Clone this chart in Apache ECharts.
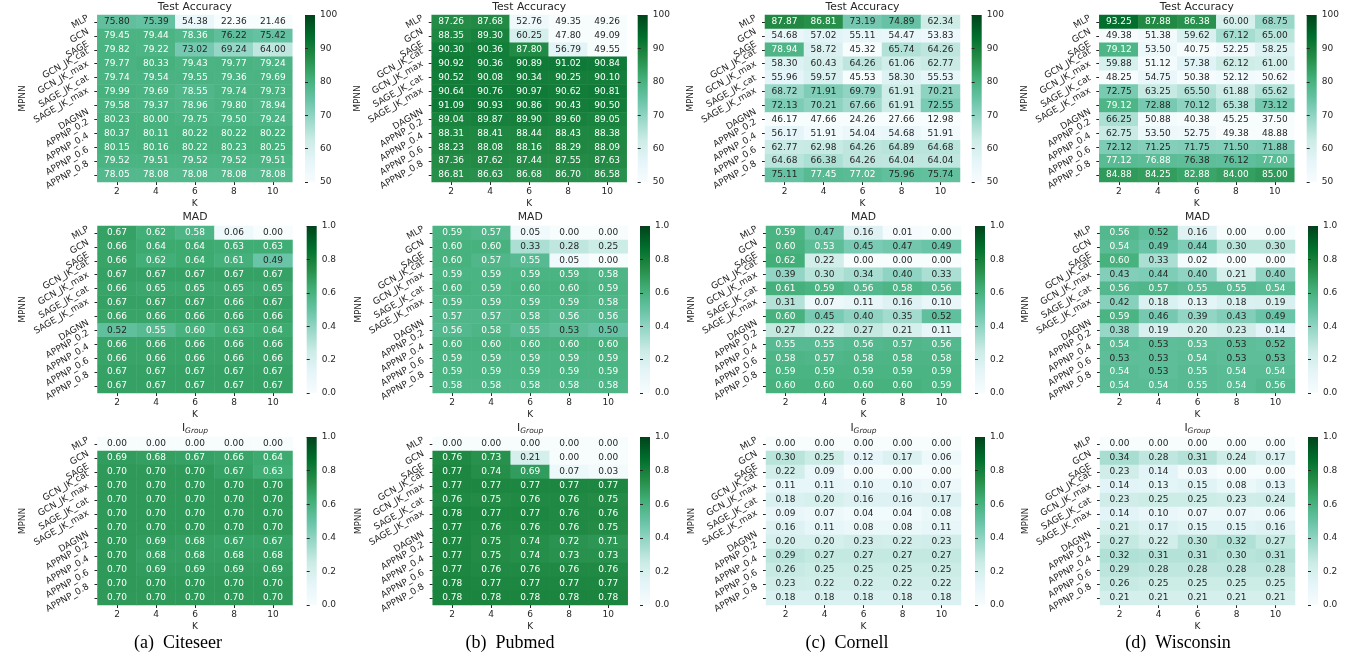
<!DOCTYPE html>
<html><head><meta charset="utf-8">
<script src="https://cdn.jsdelivr.net/npm/echarts@6/dist/echarts.min.js"></script>
<style>html,body{margin:0;padding:0;background:#fff}#c{width:1367px;height:660px}</style>
</head><body><div id="c"></div>
<script>
// ---------- categories ----------
const models = ['MLP','GCN','SAGE','GCN_JK_cat','GCN_JK_max','SAGE_JK_cat','SAGE_JK_max','DAGNN','APPNP_0.2','APPNP_0.4','APPNP_0.6','APPNP_0.8'];
const kValues = ['2','4','6','8','10'];
const captions = ['(a)  Citeseer','(b)  Pubmed','(c)  Cornell','(d)  Wisconsin'];
const accRange = [50, 100], accInterval = 10;
const unitRange = [0, 1], unitInterval = 0.2;

// ---------- Test Accuracy ----------
const citeseerAcc = [
  [75.80,75.39,54.38,22.36,21.46],[79.45,79.44,78.36,76.22,75.42],[79.82,79.22,73.02,69.24,64.00],
  [79.77,80.33,79.43,79.77,79.24],[79.74,79.54,79.55,79.36,79.69],[79.99,79.69,78.55,79.74,79.73],
  [79.58,79.37,78.96,79.80,78.94],[80.23,80.00,79.75,79.50,79.24],[80.37,80.11,80.22,80.22,80.22],
  [80.15,80.16,80.22,80.23,80.25],[79.52,79.51,79.52,79.52,79.51],[78.05,78.08,78.08,78.08,78.08]];
const pubmedAcc = [
  [87.26,87.68,52.76,49.35,49.26],[88.35,89.30,60.25,47.80,49.09],[90.30,90.36,87.80,56.79,49.55],
  [90.92,90.36,90.89,91.02,90.84],[90.52,90.08,90.34,90.25,90.10],[90.64,90.76,90.97,90.62,90.81],
  [91.09,90.93,90.86,90.43,90.50],[89.04,89.87,89.90,89.60,89.05],[88.31,88.41,88.44,88.43,88.38],
  [88.23,88.08,88.16,88.29,88.09],[87.36,87.62,87.44,87.55,87.63],[86.81,86.63,86.68,86.70,86.58]];
const cornellAcc = [
  [87.87,86.81,73.19,74.89,62.34],[54.68,57.02,55.11,54.47,53.83],[78.94,58.72,45.32,65.74,64.26],
  [58.30,60.43,64.26,61.06,62.77],[55.96,59.57,45.53,58.30,55.53],[68.72,71.91,69.79,61.91,70.21],
  [72.13,70.21,67.66,61.91,72.55],[46.17,47.66,24.26,27.66,12.98],[56.17,51.91,54.04,54.68,51.91],
  [62.77,62.98,64.26,64.89,64.68],[64.68,66.38,64.26,64.04,64.04],[75.11,77.45,77.02,75.96,75.74]];
const wisconsinAcc = [
  [93.25,87.88,86.38,60.00,68.75],[49.38,51.38,59.62,67.12,65.00],[79.12,53.50,40.75,52.25,58.25],
  [59.88,51.12,57.38,62.12,61.00],[48.25,54.75,50.38,52.12,50.62],[72.75,63.25,65.50,61.88,65.62],
  [79.12,72.88,70.12,65.38,73.12],[66.25,50.88,40.38,45.25,37.50],[62.75,53.50,52.75,49.38,48.88],
  [72.12,71.25,71.75,71.50,71.88],[77.12,76.88,76.38,76.12,77.00],[84.88,84.25,82.88,84.00,85.00]];

// ---------- MAD ----------
const citeseerMad = [
  [0.67,0.62,0.58,0.06,0.00],[0.66,0.64,0.64,0.63,0.63],[0.66,0.62,0.64,0.61,0.49],
  [0.67,0.67,0.67,0.67,0.67],[0.66,0.65,0.65,0.65,0.65],[0.67,0.67,0.67,0.66,0.67],
  [0.66,0.66,0.66,0.66,0.66],[0.52,0.55,0.60,0.63,0.64],[0.66,0.66,0.66,0.66,0.66],
  [0.66,0.66,0.66,0.66,0.66],[0.67,0.67,0.67,0.67,0.67],[0.67,0.67,0.67,0.67,0.67]];
const pubmedMad = [
  [0.59,0.57,0.05,0.00,0.00],[0.60,0.60,0.33,0.28,0.25],[0.60,0.57,0.55,0.05,0.00],
  [0.59,0.59,0.59,0.59,0.58],[0.60,0.59,0.60,0.60,0.59],[0.59,0.59,0.59,0.59,0.58],
  [0.57,0.57,0.58,0.56,0.56],[0.56,0.58,0.55,0.528,0.50],[0.60,0.60,0.60,0.60,0.60],
  [0.59,0.59,0.59,0.59,0.59],[0.59,0.59,0.59,0.59,0.59],[0.58,0.58,0.58,0.58,0.58]];
const cornellMad = [
  [0.59,0.47,0.16,0.01,0.00],[0.60,0.534,0.45,0.47,0.49],[0.62,0.22,0.00,0.00,0.00],
  [0.39,0.30,0.34,0.40,0.33],[0.61,0.59,0.56,0.58,0.56],[0.31,0.07,0.11,0.16,0.10],
  [0.60,0.45,0.40,0.35,0.52],[0.27,0.22,0.27,0.21,0.11],[0.55,0.55,0.56,0.57,0.56],
  [0.58,0.57,0.58,0.58,0.58],[0.59,0.59,0.59,0.59,0.59],[0.60,0.60,0.60,0.60,0.59]];
const wisconsinMad = [
  [0.56,0.52,0.16,0.00,0.00],[0.54,0.49,0.44,0.30,0.30],[0.60,0.33,0.02,0.00,0.00],
  [0.43,0.44,0.40,0.21,0.40],[0.56,0.57,0.55,0.55,0.54],[0.42,0.18,0.13,0.18,0.19],
  [0.59,0.46,0.39,0.43,0.49],[0.38,0.19,0.20,0.23,0.14],[0.54,0.528,0.534,0.528,0.52],
  [0.528,0.528,0.54,0.528,0.528],[0.54,0.528,0.55,0.54,0.54],[0.54,0.54,0.55,0.54,0.56]];

// ---------- I_Group ----------
const citeseerIg = [
  [0.00,0.00,0.00,0.00,0.00],[0.69,0.68,0.67,0.66,0.64],[0.70,0.70,0.70,0.67,0.63],
  [0.70,0.70,0.70,0.70,0.70],[0.70,0.70,0.70,0.70,0.70],[0.70,0.70,0.70,0.70,0.70],
  [0.70,0.70,0.70,0.70,0.70],[0.70,0.69,0.68,0.67,0.67],[0.70,0.68,0.68,0.68,0.68],
  [0.70,0.69,0.69,0.69,0.69],[0.70,0.70,0.70,0.70,0.70],[0.70,0.70,0.70,0.70,0.70]];
const pubmedIg = [
  [0.00,0.00,0.00,0.00,0.00],[0.76,0.73,0.21,0.00,0.00],[0.77,0.74,0.69,0.07,0.03],
  [0.77,0.77,0.77,0.77,0.77],[0.76,0.75,0.76,0.76,0.75],[0.78,0.77,0.77,0.76,0.76],
  [0.77,0.76,0.76,0.76,0.75],[0.77,0.75,0.74,0.72,0.71],[0.77,0.75,0.74,0.73,0.73],
  [0.77,0.76,0.76,0.76,0.76],[0.78,0.77,0.77,0.77,0.77],[0.78,0.78,0.78,0.78,0.78]];
const cornellIg = [
  [0.00,0.00,0.00,0.00,0.00],[0.30,0.25,0.12,0.17,0.06],[0.22,0.09,0.00,0.00,0.00],
  [0.11,0.11,0.10,0.10,0.07],[0.18,0.20,0.16,0.16,0.17],[0.09,0.07,0.04,0.04,0.08],
  [0.16,0.11,0.08,0.08,0.11],[0.20,0.20,0.23,0.22,0.23],[0.29,0.27,0.27,0.27,0.27],
  [0.26,0.25,0.25,0.25,0.25],[0.23,0.22,0.22,0.22,0.22],[0.18,0.18,0.18,0.18,0.18]];
const wisconsinIg = [
  [0.00,0.00,0.00,0.00,0.00],[0.34,0.28,0.31,0.24,0.17],[0.23,0.14,0.03,0.00,0.00],
  [0.14,0.13,0.15,0.08,0.13],[0.23,0.25,0.25,0.23,0.24],[0.14,0.10,0.07,0.07,0.06],
  [0.21,0.17,0.15,0.15,0.16],[0.27,0.22,0.30,0.32,0.27],[0.32,0.31,0.31,0.30,0.31],
  [0.29,0.28,0.28,0.28,0.28],[0.26,0.25,0.25,0.25,0.25],[0.21,0.21,0.21,0.21,0.21]];

// ---------- layout / style ----------
const BuGn = ['#f7fcfd','#e5f5f9','#ccece6','#99d8c9','#66c2a4','#41ae76','#238b45','#006d2c','#00441b'];
const FONT = '"DejaVu Sans", sans-serif';
const TXT = '#262626';
const rowTop = [15, 226, 437], rowH = [167, 167, 168];
const gridLeft = [[97.3,431.7,765,1099.3],[97.5,432.7,766,1100],[97.5,432.7,766,1100]];
const cbLeft = [[305,637.7,971.7,1306.7],[306.7,640,975,1308],[306.7,640,975,1308]];
const gridW = 195;
const titleY = [7.5, 217, 429];
const captionX = [178, 510, 847, 1178], captionY = 643;

const metricData = [
  [citeseerAcc, pubmedAcc, cornellAcc, wisconsinAcc],
  [citeseerMad, pubmedMad, cornellMad, wisconsinMad],
  [citeseerIg, pubmedIg, cornellIg, wisconsinIg]];
const ranges = [accRange, unitRange, unitRange];
const intervals = [accInterval, unitInterval, unitInterval];

function hexRgb(h){return [1,3,5].map(i=>parseInt(h.substr(i,2),16));}
const cmapRgb = BuGn.map(hexRgb);
function cmap(t){
  t = Math.max(0, Math.min(1, t));
  const p = t*(cmapRgb.length-1), i = Math.min(Math.floor(p), cmapRgb.length-2), f = p-i;
  return cmapRgb[i].map((v,k)=>v+(cmapRgb[i+1][k]-v)*f);
}
function lum(rgb){
  const l = rgb.map(v=>{v/=255; return v<=0.03928? v/12.92 : Math.pow((v+0.055)/1.055,2.4);});
  return 0.2126*l[0]+0.7152*l[1]+0.0722*l[2];
}

// rotated y labels: place each so its rotated bounding box is centred on the tick
const FS = 9, LH = 9, PAD = 7;
const ctx = document.createElement('canvas').getContext('2d');
ctx.font = FS + 'px "DejaVu Sans"';
const Kc = PAD + LH/4, s30 = 0.5, c30 = Math.cos(Math.PI/6);
const yCats = models.map(m=>{
  const L = ctx.measureText(m).width;
  const pr = Math.max(0, c30*Kc - s30*L/4);
  const pb = Math.max(0, s30*Kc + c30*L/4 - LH/2);
  return {value:m, textStyle:{padding:[0, pr, pb, 0], verticalAlign:'bottom', lineHeight:LH}};
});

const grids=[], xAxes=[], yAxes=[], series=[], visualMaps=[], graphics=[];
const axisTxt = {fontSize:FS, color:TXT, fontFamily:FONT};

for (let r=0;r<3;r++){
  const [mn,mx] = ranges[r];
  for (let c=0;c<4;c++){
    const gi = grids.length;
    grids.push({left:gridLeft[r][c], top:rowTop[r], width:gridW, height:rowH[r], show:false});
    xAxes.push({type:'category', gridIndex:gi, data:kValues, position:'bottom',
      name:'K', nameLocation:'middle', nameGap:17, nameTextStyle:axisTxt,
      axisLine:{show:false}, splitLine:{show:false}, splitArea:{show:false},
      axisTick:{show:true, alignWithLabel:true, interval:0, length:3, lineStyle:{color:TXT, width:1}},
      axisLabel:Object.assign({margin:5, interval:0}, axisTxt)});
    yAxes.push({type:'category', gridIndex:gi, data:yCats, inverse:true,
      name:'MPNN', nameLocation:'middle', nameGap:70, nameRotate:90, nameTextStyle:axisTxt,
      axisLine:{show:false}, splitLine:{show:false}, splitArea:{show:false},
      axisTick:{show:true, alignWithLabel:true, interval:0, length:3, lineStyle:{color:TXT, width:1}},
      axisLabel:Object.assign({margin:0, interval:0, rotate:30, verticalAlign:'bottom', lineHeight:LH}, axisTxt)});
    const ci = grids.length;
    grids.push({left:cbLeft[r][c], top:rowTop[r], width:10, height:rowH[r], show:true, borderWidth:0,
      backgroundColor:new echarts.graphic.LinearGradient(0,1,0,0, BuGn.map((col,i)=>({offset:i/(BuGn.length-1), color:col})))});
    xAxes.push({type:'value', gridIndex:ci, show:false, min:0, max:1});
    yAxes.push({type:'value', gridIndex:ci, position:'right', min:mn, max:mx, interval:intervals[r],
      axisLine:{show:false}, splitLine:{show:false},
      axisTick:{show:true, length:3, lineStyle:{color:TXT, width:1}},
      axisLabel:Object.assign({margin:5, formatter:v=> r===0 ? String(Math.round(v)) : v.toFixed(1)}, axisTxt)});

    const arr = metricData[r][c];
    const data = [];
    arr.forEach((row, yi)=>row.forEach((v, xi)=>{
      const L = lum(cmap((v-mn)/(mx-mn)));
      data.push({value:[xi, yi, v], label:{color: L>0.408 ? TXT : '#ffffff'}});
    }));
    series.push({type:'heatmap', xAxisIndex:gi, yAxisIndex:gi, data,
      label:{show:true, fontSize:9, fontFamily:FONT, formatter:p=>p.value[2].toFixed(2)},
      itemStyle:{borderWidth:0}, emphasis:{disabled:true}});
    visualMaps.push({type:'continuous', show:false, seriesIndex:series.length-1, dimension:2,
      min:mn, max:mx, inRange:{color:BuGn}, outOfRange:{color:['#f7fcfd']}});

    const cx = gridLeft[r][c] + gridW/2;
    if (r===2){
      graphics.push({type:'text', x:cx, y:titleY[r], style:{text:'{i|I}{g|Group}', align:'center', verticalAlign:'middle',
        textAlign:'center', textVerticalAlign:'middle', fill:TXT,
        rich:{i:{fontSize:10.8, fontFamily:FONT, fill:TXT, color:TXT, lineHeight:12, verticalAlign:'top'},
              g:{fontSize:7.5, fontFamily:FONT, fontStyle:'italic', fill:TXT, color:TXT, lineHeight:7, verticalAlign:'bottom'}}}});
    } else {
      graphics.push({type:'text', x:cx, y:titleY[r], style:{text: r===0 ? 'Test Accuracy' : 'MAD', fontSize:10.8, fontFamily:FONT,
        fill:TXT, align:'center', verticalAlign:'middle', textAlign:'center', textVerticalAlign:'middle'}});
    }
  }
}
captions.forEach((t,c)=>graphics.push({type:'text', x:captionX[c], y:captionY, style:{text:t, fontSize:18,
  fontFamily:'"Liberation Serif", "DejaVu Serif", serif', fill:'#000', align:'center', verticalAlign:'middle',
  textAlign:'center', textVerticalAlign:'middle'}}));

const chart = echarts.init(document.getElementById('c'), null, {renderer:'canvas', width:1367, height:660});
chart.setOption({
  backgroundColor:'#ffffff', animation:false,
  grid:grids, xAxis:xAxes, yAxis:yAxes, visualMap:visualMaps, series, graphic:{elements:graphics}
});
</script></body></html>
